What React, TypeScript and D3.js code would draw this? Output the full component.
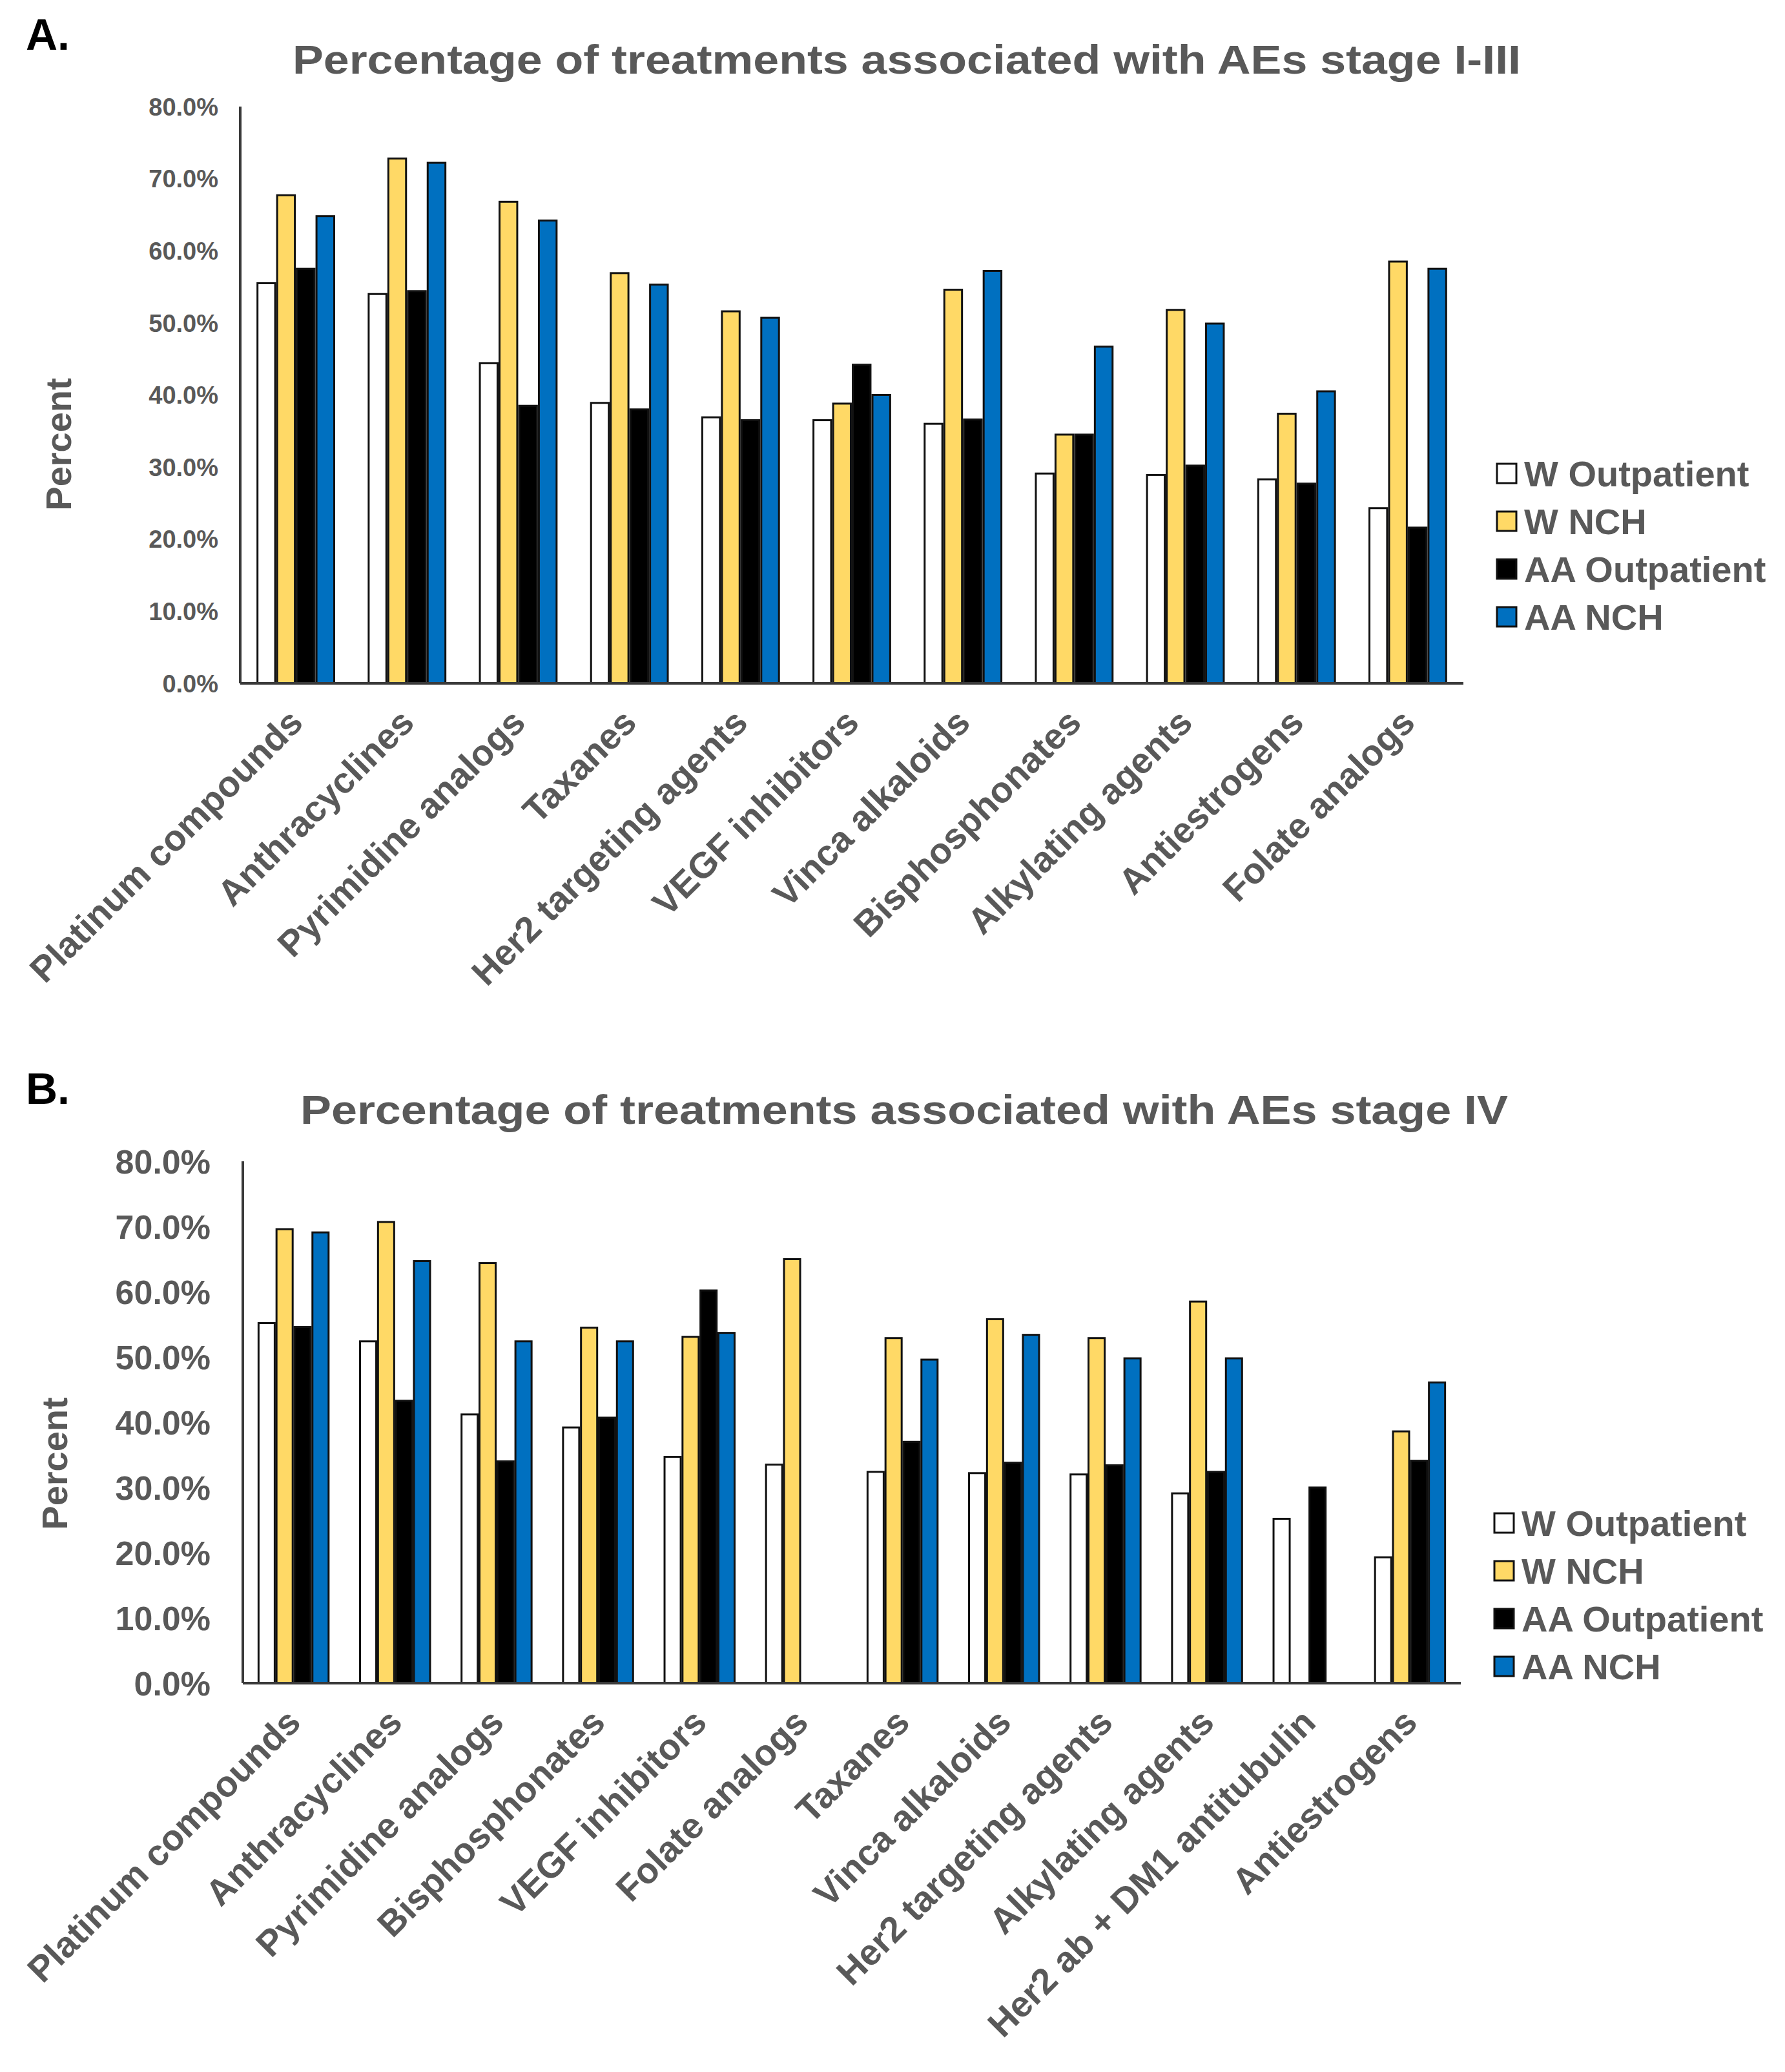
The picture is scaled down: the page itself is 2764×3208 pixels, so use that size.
import React from 'react';
import * as d3 from 'd3';

// series shared by both panels
const seriesNames = ['W Outpatient', 'W NCH', 'AA Outpatient', 'AA NCH'];
const seriesColors = ['#FFFFFF', '#FFD966', '#000000', '#0070C0'];
const yTickValues = [0, 0.1, 0.2, 0.3, 0.4, 0.5, 0.6, 0.7, 0.8];

// Panel A: stage I-III
const stageICategories = [
  'Platinum compounds', 'Anthracyclines', 'Pyrimidine analogs', 'Taxanes',
  'Her2 targeting agents', 'VEGF inhibitors', 'Vinca alkaloids', 'Bisphosphonates',
  'Alkylating agents', 'Antiestrogens', 'Folate analogs',
];
const stageIWOutpatient = [55.5, 54.0, 44.4, 38.9, 36.9, 36.5, 36.0, 29.1, 28.9, 28.3, 24.3];
const stageIWNch = [67.7, 72.8, 66.8, 56.9, 51.6, 38.8, 54.6, 34.5, 51.8, 37.4, 58.5];
const stageIAAOutpatient = [57.5, 54.4, 38.5, 38.0, 36.5, 44.2, 36.6, 34.5, 30.2, 27.7, 21.6];
const stageIAANch = [64.8, 72.2, 64.2, 55.3, 50.7, 40.0, 57.2, 46.7, 49.9, 40.5, 57.5];

// Panel B: stage IV
const stageIVCategories = [
  'Platinum compounds', 'Anthracyclines', 'Pyrimidine analogs', 'Bisphosphonates',
  'VEGF inhibitors', 'Folate analogs', 'Taxanes', 'Vinca alkaloids',
  'Her2 targeting agents', 'Alkylating agents', 'Her2 ab + DM1 antitubulin', 'Antiestrogens',
];
const stageIVWOutpatient = [55.2, 52.4, 41.2, 39.2, 34.7, 33.5, 32.4, 32.2, 32.0, 29.1, 25.2, 19.3];
const stageIVWNch = [69.6, 70.7, 64.4, 54.5, 53.1, 65.0, 52.9, 55.8, 52.9, 58.5, null, 38.6];
const stageIVAAOutpatient = [54.6, 43.3, 34.0, 40.7, 60.2, null, 37.0, 33.8, 33.4, 32.4, 30.0, 34.1];
const stageIVAANch = [69.1, 64.7, 52.4, 52.4, 53.7, null, 49.6, 53.4, 49.8, 49.8, null, 46.1];

const textGray = '#595959';
const fontFamily = 'Liberation Sans, Arial, sans-serif';

interface PanelProps {
  letter: string;
  title: string;
  categories: string[];
  values: (number | null)[][];
  letterY: number;
  titleX: number;
  titleY: number;
  titleWidth: number;
  left: number;
  right: number;
  top: number;
  bottom: number;
  tickFont: number;
  tickX: number;
  percentX: number;
  percentY: number;
  legendX: number;
  legendTop: number;
}

const Panel: React.FC<PanelProps> = (p) => {
  const x = d3.scaleBand<string>()
    .domain(p.categories)
    .range([p.left, p.right])
    .paddingInner(0.31)
    .paddingOuter(0.155);
  const xInner = d3.scaleBand<string>()
    .domain(seriesNames)
    .range([0, x.bandwidth()])
    .paddingInner(0.1);
  const y = d3.scaleLinear().domain([0, 0.8]).range([p.bottom, p.top]);
  const fmt = d3.format('.1%');

  return (
    <g>
      <text x={40} y={p.letterY} fontSize={68} fontWeight="bold" fill="#000" fontFamily={fontFamily}>
        {p.letter}
      </text>
      <text
        x={p.titleX}
        y={p.titleY}
        fontSize={63}
        fontWeight="bold"
        fill={textGray}
        textAnchor="middle"
        textLength={p.titleWidth}
        lengthAdjust="spacingAndGlyphs"
        fontFamily={fontFamily}
      >
        {p.title}
      </text>

      {/* y tick labels */}
      {yTickValues.map((t) => (
        <text
          key={t}
          x={p.tickX}
          y={y(t)}
          dy="0.36em"
          fontSize={p.tickFont}
          fontWeight="bold"
          fill={textGray}
          textAnchor="end"
          fontFamily={fontFamily}
        >
          {fmt(t)}
        </text>
      ))}

      <text
        transform={`translate(${p.percentX},${p.percentY}) rotate(-90)`}
        fontSize={56}
        fontWeight="bold"
        fill={textGray}
        textAnchor="middle"
        fontFamily={fontFamily}
      >
        Percent
      </text>

      {/* bars */}
      {p.categories.map((c, ci) => (
        <g key={c} transform={`translate(${x(c)},0)`}>
          {seriesNames.map((s, si) => {
            const v = p.values[si][ci];
            if (v == null) return null;
            return (
              <rect
                key={s}
                x={xInner(s)}
                y={y(v / 100)}
                width={xInner.bandwidth()}
                height={p.bottom - y(v / 100)}
                fill={seriesColors[si]}
                stroke="#111"
                strokeWidth={3}
              />
            );
          })}
        </g>
      ))}

      {/* axes */}
      <line x1={p.left} x2={p.left} y1={p.top} y2={p.bottom} stroke="#3a3a3a" strokeWidth={4} />
      <line x1={p.left} x2={p.right} y1={p.bottom} y2={p.bottom} stroke="#3a3a3a" strokeWidth={4} />

      {/* category labels */}
      {p.categories.map((c) => (
        <text
          key={c}
          transform={`translate(${(x(c) ?? 0) + x.bandwidth() / 2 + 14},${p.bottom + 64}) rotate(-45)`}
          fontSize={56}
          fontWeight="bold"
          fill={textGray}
          textAnchor="end"
          fontFamily={fontFamily}
        >
          {c}
        </text>
      ))}

      {/* legend */}
      {seriesNames.map((s, i) => (
        <g key={s} transform={`translate(${p.legendX},${p.legendTop + i * 74})`}>
          <rect x={0} y={-15} width={30} height={30} fill={seriesColors[i]} stroke="#111" strokeWidth={3} />
          <text x={42} y={0} dy="0.36em" fontSize={56} fontWeight="bold" fill={textGray} fontFamily={fontFamily}>
            {s}
          </text>
        </g>
      ))}
    </g>
  );
};

export default function App() {
  return (
    <svg
      width={2764}
      height={3208}
      viewBox="0 0 2764 3208"
      style={{ position: 'absolute', left: 0, top: 0, background: '#fff' }}
    >
      <rect width={2764} height={3208} fill="#fff" />
      <Panel
        letter="A."
        title="Percentage of treatments associated with AEs stage I-III"
        categories={stageICategories}
        values={[stageIWOutpatient, stageIWNch, stageIAAOutpatient, stageIAANch]}
        letterY={77}
        titleX={1404}
        titleY={114}
        titleWidth={1902}
        left={372}
        right={2266}
        top={165}
        bottom={1058}
        tickFont={38}
        tickX={338}
        percentX={110}
        percentY={688}
        legendX={2318}
        legendTop={733}
      />
      <Panel
        letter="B."
        title="Percentage of treatments associated with AEs stage IV"
        categories={stageIVCategories}
        values={[stageIVWOutpatient, stageIVWNch, stageIVAAOutpatient, stageIVAANch]}
        letterY={1709}
        titleX={1400}
        titleY={1740}
        titleWidth={1870}
        left={376}
        right={2262}
        top={1798}
        bottom={2606}
        tickFont={52}
        tickX={326}
        percentX={104}
        percentY={2266}
        legendX={2314}
        legendTop={2358}
      />
    </svg>
  );
}
